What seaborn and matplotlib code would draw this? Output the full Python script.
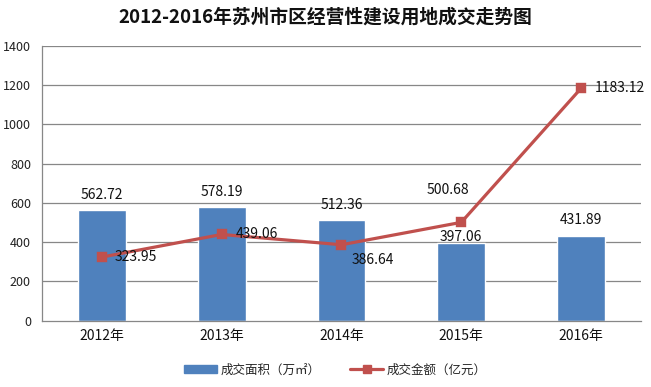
import matplotlib
matplotlib.use("Agg")
import matplotlib.pyplot as plt
import seaborn as sns
import pandas as pd
from matplotlib.patches import Patch
from matplotlib.lines import Line2D

years = ["2012年", "2013年", "2014年", "2015年", "2016年"]
area = [562.72, 578.19, 512.36, 397.06, 431.89]        # 成交面积（万㎡）
amount = [323.95, 439.06, 386.64, 500.68, 1183.12]     # 成交金额（亿元）
yticks = [0, 200, 400, 600, 800, 1000, 1200, 1400]
title = "2012-2016年苏州市区经营性建设用地成交走势图"
legend_labels = ["成交面积（万㎡）", "成交金额（亿元）"]

df = pd.DataFrame({"year": years, "area": area, "amount": amount})

sns.set_theme(style="white")
plt.rcParams["font.family"] = ["Noto Sans CJK SC", "DejaVu Sans"]

bar_color = "#4F81BD"
line_color = "#C0504D"
grid_color = "#878787"

fig = plt.figure(figsize=(6.51, 3.87), dpi=100)
ax = fig.add_axes([0.0645, 0.1713, 0.9201, 0.7107])

sns.barplot(data=df, x="year", y="area", color=bar_color, width=0.4,
            saturation=1, ax=ax, zorder=2)
sns.pointplot(data=df, x="year", y="amount", color=line_color, markers="s",
              markersize=6, linewidth=2.3, ax=ax, zorder=3)

ax.set_xlim(-0.5, 4.5)
ax.set_ylim(0, 1400)
ax.set_yticks(yticks)
ax.set_yticklabels([str(v) for v in yticks], fontsize=9, color="#222222")
ax.set_xlabel("")
ax.set_ylabel("")
ax.set_xticks(range(len(years)))
ax.set_xticklabels(years, fontsize=10, color="#111111")
ax.tick_params(axis="x", length=0, pad=6)
ax.tick_params(axis="y", length=4, width=0.8, color=grid_color, pad=4, direction="out")
# x-axis tick marks at category boundaries
ax.set_xticks([i + 0.5 for i in range(-1, len(years))], minor=True)
ax.tick_params(axis="x", which="minor", length=4, width=0.8, color=grid_color, direction="out")

for y in yticks[1:]:
    ax.axhline(y, color=grid_color, lw=0.9, zorder=1)

for side in ["top", "right"]:
    ax.spines[side].set_visible(False)
for side in ["left", "bottom"]:
    ax.spines[side].set_color(grid_color)
    ax.spines[side].set_linewidth(0.9)

# data labels (offsets in points)
bar_offsets = [(0, 11), (0, 11), (0, 11), (0, 4), (0, 11.5)]
for i, (v, off) in enumerate(zip(area, bar_offsets)):
    ax.annotate(f"{v:.2f}", (i, v), xytext=off, textcoords="offset points",
                ha="center", va="center", fontsize=10, color="#111111", zorder=5)

line_offsets = [(9.5, 0), (10, 0), (7, -11), (-9.5, 23), (9.5, 0)]
line_ha = ["left", "left", "left", "center", "left"]
for i, (v, off, ha) in enumerate(zip(amount, line_offsets, line_ha)):
    ax.annotate(f"{v:.2f}", (i, v), xytext=off, textcoords="offset points",
                ha=ha, va="center", fontsize=10, color="#111111", zorder=5)

fig.text(0.5, 0.955, title, ha="center", va="center", fontsize=13.5,
         fontweight="bold", color="#111111")

handles = [Patch(facecolor=bar_color, edgecolor=bar_color),
           Line2D([0], [0], color=line_color, lw=2.3, marker="s", markersize=6)]
fig.legend(handles, legend_labels, loc="center", bbox_to_anchor=(0.515, 0.044),
           ncol=2, frameon=False, fontsize=9, handlelength=2.6, handleheight=0.6,
           columnspacing=2.4, handletextpad=0.3)

fig.savefig("out.png", dpi=100)
